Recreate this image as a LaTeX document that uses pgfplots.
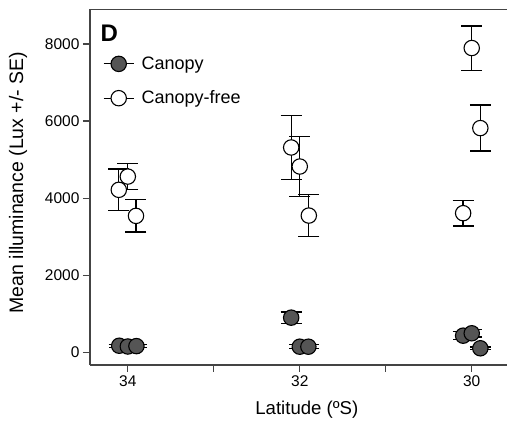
\documentclass[border=0pt]{standalone}
\usepackage{pgfplots}
\pgfplotsset{compat=1.18}
\usepackage{fontspec}
\setmainfont{Liberation Sans}
\definecolor{axgray}{HTML}{444444}
\definecolor{fillgray}{HTML}{555555}

\pgfplotstableread{
x y e
34.10 170 40
34.00 150 40
33.90 160 40
32.10 899 150
32.00 145 50
31.90 145 50
30.10 431 100
30.00 493 100
29.90 104 30
}\canopy

\pgfplotstableread{
x y e
34.105 4216 540
34.00 4560 335
33.905 3540 420
32.10 5315 830
32.00 4821 785
31.895 3548 545
30.10 3610 330
30.00 7896 575
29.90 5818 597
}\canopyfree

\begin{document}
\begin{tikzpicture}
\path[use as bounding box] (-90pt,-61pt) rectangle (417pt,365pt);
\begin{axis}[
  at={(0pt,0pt)}, anchor=south west,
  scale only axis, width=417pt, height=355.5pt,
  x dir=reverse,
  xmin=29.59, xmax=34.44,
  ymin=-330, ymax=8896,
  axis x line=box, axis y line=left,
  x axis line style={-, line width=1.3pt, axgray},
  y axis line style={-, line width=1.3pt, axgray},
  xtick={34,33,32,31,30}, xticklabels={34,,32,,30},
  ytick={0,2000,4000,6000,8000},
  xtick pos=left, ytick pos=left,
  tick align=outside, major tick length=7pt,
  every tick/.style={line width=1.3pt, axgray},
  minor tick num=0,
  tick label style={font=\fontsize{15.5}{18}\selectfont, black},
  /pgf/number format/assume math mode=true,
  /pgf/number format/1000 sep={},
  xlabel={Latitude (ºS)},
  ylabel={Mean illuminance (Lux +/- SE)},
  xlabel style={font=\fontsize{18.6}{22}\selectfont, at={(axis description cs:0.52,-0.1266)}, anchor=center},
  ylabel style={font=\fontsize{19.5}{22}\selectfont, at={(axis description cs:-0.1727,0.513)}, anchor=center, rotate=0},
  clip=false,
  legend style={at={(axis description cs:0.031,0.873)}, anchor=north west, draw=none, fill=none,
    font=\fontsize{18}{22}\selectfont, row sep=16pt, inner sep=0pt},
  legend cell align=left,
  legend image code/.code={
    \path[draw=none, fill=none] (0pt,0pt) -- (36pt,0pt);
    \draw[line width=1.2pt, black] (0pt,0pt) -- (30pt,0pt);
    \draw[mark repeat=2, mark phase=2, #1] plot coordinates {(0pt,0pt) (15pt,0pt) (30pt,0pt)};
  },
]
\addplot[only marks, mark=*, mark size=7.7pt,
  mark options={fill=fillgray, draw=black, line width=1.1pt},
  error bars/.cd, y dir=both, y explicit,
  error bar style={line width=1.3pt, black},
  error mark options={rotate=90, mark size=10.5pt, line width=1.3pt, black}]
  table[x=x, y=y, y error=e] {\canopy};
\addlegendentry{Canopy}
\addplot[only marks, mark=*, mark size=7.7pt,
  mark options={fill=white, draw=black, line width=1.1pt},
  error bars/.cd, y dir=both, y explicit,
  error bar style={line width=1.3pt, black},
  error mark options={rotate=90, mark size=10.5pt, line width=1.3pt, black}]
  table[x=x, y=y, y error=e] {\canopyfree};
\addlegendentry{Canopy-free}
\node[anchor=north west, inner sep=0pt, font=\bfseries\fontsize{24}{24}\selectfont]
  at (axis description cs:0.025,0.957) {D};
\end{axis}
\end{tikzpicture}
\end{document}
